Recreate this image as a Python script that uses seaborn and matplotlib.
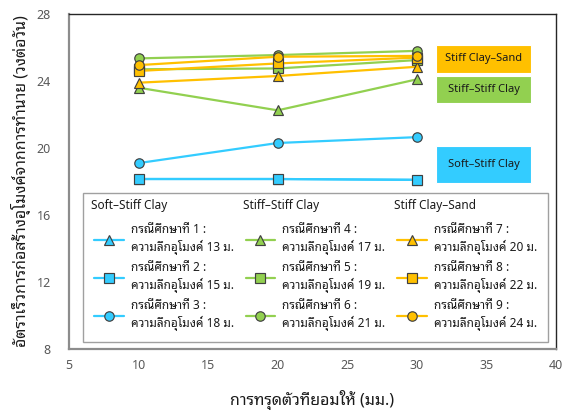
import matplotlib
matplotlib.use("Agg")
import matplotlib.pyplot as plt
import pandas as pd
import seaborn as sns
from matplotlib import font_manager
from matplotlib.lines import Line2D
from matplotlib.patches import Rectangle
from matplotlib.ticker import MultipleLocator

# ---- data -------------------------------------------------------------
settlement = [10, 20, 30]                       # allowable settlement (mm)
case_ids = [1, 2, 3, 4, 5, 6, 7, 8, 9]
tunnel_depths = [13, 15, 18, 17, 19, 21, 20, 22, 24]
soil_groups = ["Soft–Stiff Clay", "Stiff–Stiff Clay", "Stiff Clay–Sand"]

rate_case1 = [18.15, 18.15, 18.1]
rate_case2 = [18.15, 18.15, 18.1]
rate_case3 = [19.1, 20.3, 20.65]
rate_case4 = [23.6, 22.25, 24.1]
rate_case5 = [24.7, 24.75, 25.25]
rate_case6 = [25.35, 25.55, 25.8]
rate_case7 = [23.9, 24.3, 24.85]
rate_case8 = [24.6, 25.05, 25.4]
rate_case9 = [24.95, 25.45, 25.5]
rates = [rate_case1, rate_case2, rate_case3, rate_case4, rate_case5,
         rate_case6, rate_case7, rate_case8, rate_case9]

x_label = "การทรุดตัวที่ยอมให้ (มม.)"
y_label = "อัตราเร็วการก่อสร้างอุโมงค์จากการทำนาย (วงต่อวัน)"

rows = []
for cid, depth, vals in zip(case_ids, tunnel_depths, rates):
    for s, v in zip(settlement, vals):
        rows.append({"case": cid, "depth": depth,
                     "group": soil_groups[(cid - 1) // 3],
                     "settlement": s, "rate": v})
df = pd.DataFrame(rows)

# ---- style ------------------------------------------------------------
sns.set_theme(style="white")
installed = {f.name for f in font_manager.fontManager.ttflist}
thai_font = next((n for n in ["Noto Sans Thai Looped", "Noto Sans Thai",
                              "Sarabun", "Anuphan"] if n in installed),
                 "DejaVu Sans")
plt.rcParams["font.family"] = ["Noto Sans", thai_font, "DejaVu Sans"]

group_colors = {"Soft–Stiff Clay": "#33CCFF",
                "Stiff–Stiff Clay": "#92D050",
                "Stiff Clay–Sand": "#FFC000"}
case_markers = ["^", "s", "o"]
edge = "#404040"
mk = dict(markersize=6.8, markeredgecolor=edge, markeredgewidth=0.85)

fig = plt.figure(figsize=(5.64, 4.16), dpi=100)
ax = fig.add_axes([0.1223, 0.161, 0.8635, 0.8053])

for cid in case_ids:
    sub = df[df["case"] == cid]
    color = group_colors[sub["group"].iloc[0]]
    sns.lineplot(data=sub, x="settlement", y="rate", ax=ax, color=color,
                 marker=case_markers[(cid - 1) % 3], linewidth=1.6,
                 legend=False, **mk)

ax.set_xlim(5, 40)
ax.set_ylim(8, 28)
ax.xaxis.set_major_locator(MultipleLocator(5))
ax.xaxis.set_minor_locator(MultipleLocator(2.5))
ax.yaxis.set_major_locator(MultipleLocator(4))
ax.yaxis.set_minor_locator(MultipleLocator(2))
ax.tick_params(which="both", direction="in", color="#262626", width=0.9)
ax.tick_params(which="major", length=4, labelsize=9, labelcolor="#595959")
ax.tick_params(which="minor", length=3.5)
ax.tick_params(axis="x", pad=7)
ax.tick_params(axis="y", pad=13)

for side in ("left", "bottom"):
    ax.spines[side].set_color("#8c8c8c")
    ax.spines[side].set_linewidth(1.6)
for side in ("top", "right"):
    ax.spines[side].set_color("#262626")
    ax.spines[side].set_linewidth(1.0)

ax.set_xlabel(x_label, fontsize=11.5, color="#1a1a1a", labelpad=13)
ax.set_ylabel(y_label, fontsize=11.5, color="#1a1a1a", labelpad=4)

# ---- legend: three columns, one per soil group ------------------------
handles, labels = [], []
for g_idx, group in enumerate(soil_groups):
    handles.append(Line2D([], [], linestyle="none"))
    labels.append(" ")
    for k in range(3):
        cid = g_idx * 3 + k + 1
        handles.append(Line2D([], [], color=group_colors[group],
                              marker=case_markers[k], linewidth=1.6, **mk))
        labels.append(f"กรณีศึกษาที่ {cid} :\n"
                      f"ความลึกอุโมงค์ {tunnel_depths[cid - 1]} ม.")

leg = ax.legend(handles, labels, ncol=3, loc="upper left",
                bbox_to_anchor=(0.0287, 0.0209, 0.955, 0.4448),
                mode="expand", fontsize=8.5, frameon=True, fancybox=False,
                edgecolor="#a0a0a0", framealpha=1, handlelength=2.5,
                handletextpad=0.6, labelspacing=0.5, borderpad=0.95,
                borderaxespad=0, columnspacing=1.0)
leg.get_frame().set_linewidth(1.0)
for t in leg.get_texts():
    t.set_color("#1a1a1a")
    t.set_linespacing(1.35)

for x_pos, group in zip([0.045, 0.357, 0.667], soil_groups):
    ax.text(x_pos, 0.428, group, transform=ax.transAxes, fontsize=8.5,
            color="#1a1a1a", va="center", ha="left", zorder=6)

# ---- soil group tags at the right --------------------------------------
tags = [("Stiff Clay–Sand", 0.8248, 0.0827),
        ("Stiff–Stiff Clay", 0.7343, 0.0815),
        ("Soft–Stiff Clay", 0.4955, 0.1104)]
for name, y0, h in tags:
    ax.add_patch(Rectangle((0.7536, y0), 0.195, h, transform=ax.transAxes,
                           facecolor=group_colors[name], edgecolor="white",
                           linewidth=0.8, zorder=4))
    ax.text(0.7536 + 0.0975, y0 + h / 2, name, transform=ax.transAxes,
            ha="center", va="center", fontsize=8, color="#1a1a1a",
            zorder=5)

fig.savefig("out.png", dpi=100)
